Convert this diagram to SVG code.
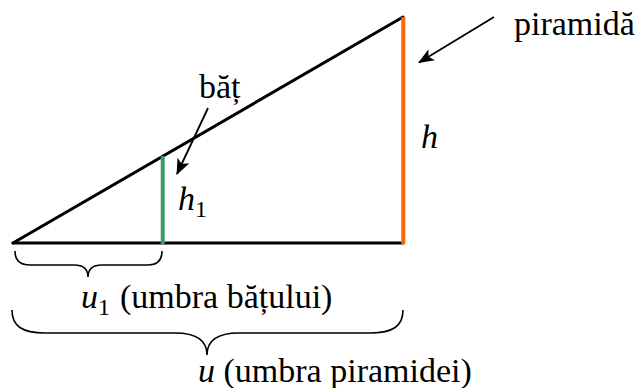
<svg xmlns="http://www.w3.org/2000/svg" width="639" height="388" viewBox="0 0 639 388">
<defs>
<marker id="ah" markerUnits="userSpaceOnUse" markerWidth="17" markerHeight="13" refX="15" refY="6.5" orient="auto">
<path d="M0,0 L16,6.5 L0,13 L4,6.5 z" fill="#000"/>
</marker>
<style>
text{font-family:'Liberation Serif','Times New Roman',Times,serif;font-size:34px;fill:#000}
.i{font-style:italic}
.sub{font-size:24px;font-style:normal}
.ln{stroke:#000;stroke-width:3;fill:none;stroke-linecap:round}
.br{stroke:#000;stroke-width:1.6;fill:none}
.ar{stroke:#000;stroke-width:1.8;fill:none;marker-end:url(#ah)}
</style>
</defs>
<g id="triangle">
<line class="ln" x1="13" y1="243" x2="403" y2="243"/>
<line class="ln" x1="13" y1="243" x2="403" y2="17"/>
</g>
<g id="pyramid">
<line x1="403.3" y1="17" x2="403.3" y2="244" stroke="#FF6600" stroke-width="4"/>
</g>
<g id="stick">
<line x1="162.7" y1="156" x2="162.7" y2="244" stroke="#3A9A6A" stroke-width="4"/>
</g>
<g id="brace-small">
<path class="br" d="M15,251 C15,261 20,265 30,265 L74,265 C82,265 88,268 88,277 C88,268 94,265 102,265 L148,265 C157,265 162,261 162,251"/>
</g>
<g id="brace-big">
<path class="br" d="M12,310 C12,326 22,333 45,333 L175,333 C196,333 207,340 207,355 C207,340 218,333 239,333 L370,333 C393,333 403,326 403,310"/>
</g>
<g id="connectors">
<line class="ar" x1="494" y1="17" x2="419" y2="62.5"/>
<line class="ar" x1="208" y1="108" x2="177" y2="174"/>
</g>
<g id="labels">
<text x="514" y="35">piramidă</text>
<text x="199" y="98">băț</text>
<text class="i" x="421" y="148">h</text>
<text class="i" x="178" y="210">h<tspan class="sub" dy="7">1</tspan></text>
<text class="i" x="81" y="308">u<tspan class="sub" dy="7">1</tspan></text>
<text x="120" y="308">(umbra bățului)</text>
<text x="198" y="382"><tspan class="i">u</tspan> (umbra piramidei)</text>
</g>
</svg>
